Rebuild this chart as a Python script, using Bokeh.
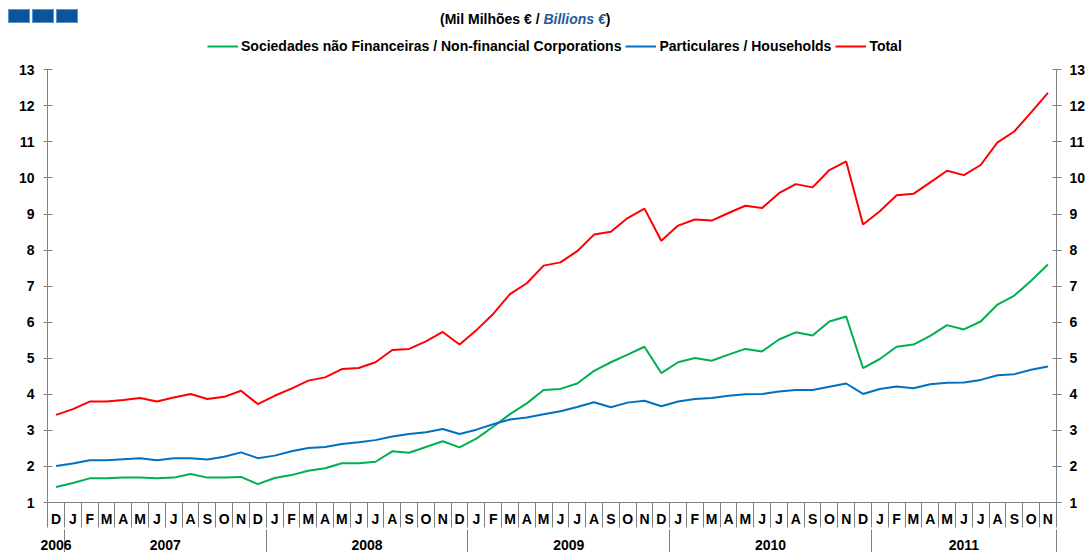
from bokeh.plotting import figure
from bokeh.layouts import column
from bokeh.models import (Range1d, LinearAxis, FixedTicker, Legend, LegendItem, Div)
from bokeh.embed import file_html
from bokeh.resources import INLINE

# ---------------- data ----------------
month_letters = ["J", "F", "M", "A", "M", "J", "J", "A", "S", "O", "N", "D"]
x_labels = ["D"] + month_letters * 4 + month_letters[:11]   # Dec 2006 .. Nov 2011
years = ["2006", "2007", "2008", "2009", "2010", "2011"]
year_centers = [0.5, 7, 19, 31, 43, 54.5]
year_bounds = [1, 13, 25, 37, 49, 60]

nfc = [1.43, 1.54, 1.67, 1.67, 1.69, 1.69, 1.67, 1.69, 1.79, 1.69,
       1.69, 1.71, 1.51, 1.68, 1.76, 1.88, 1.95, 2.09, 2.09, 2.13,
       2.42, 2.38, 2.54, 2.70, 2.53, 2.77, 3.10, 3.45, 3.75, 4.12,
       4.15, 4.30, 4.65, 4.89, 5.10, 5.32, 4.59, 4.89, 5.01, 4.93,
       5.10, 5.26, 5.19, 5.52, 5.72, 5.63, 6.02, 6.16, 4.73, 4.98,
       5.32, 5.38, 5.62, 5.92, 5.80, 6.02, 6.49, 6.74, 7.15, 7.60]
households = [2.01, 2.08, 2.17, 2.17, 2.20, 2.23, 2.17, 2.23, 2.23, 2.19,
              2.27, 2.39, 2.23, 2.30, 2.42, 2.51, 2.54, 2.62, 2.67, 2.73,
              2.83, 2.90, 2.95, 3.04, 2.90, 3.02, 3.17, 3.30, 3.36, 3.45,
              3.53, 3.65, 3.78, 3.64, 3.77, 3.82, 3.67, 3.80, 3.87, 3.90,
              3.96, 4.00, 4.01, 4.08, 4.12, 4.12, 4.21, 4.30, 4.01, 4.15,
              4.22, 4.17, 4.28, 4.32, 4.33, 4.40, 4.53, 4.56, 4.68, 4.77]
total = [3.43, 3.59, 3.80, 3.80, 3.84, 3.90, 3.80, 3.91, 4.01, 3.87,
         3.93, 4.10, 3.73, 3.96, 4.16, 4.38, 4.47, 4.70, 4.73, 4.89,
         5.23, 5.26, 5.47, 5.73, 5.38, 5.78, 6.23, 6.78, 7.08, 7.57,
         7.66, 7.97, 8.43, 8.51, 8.89, 9.15, 8.26, 8.68, 8.85, 8.82,
         9.03, 9.23, 9.17, 9.58, 9.83, 9.74, 10.22, 10.46, 8.71, 9.08,
         9.52, 9.56, 9.88, 10.20, 10.08, 10.36, 10.99, 11.29, 11.82, 12.36]
y_ticks = list(range(1, 14))

series_names = ["Sociedades não Financeiras / Non-financial Corporations",
                "Particulares / Households", "Total"]
series_colors = ["#00B050", "#0070C0", "#FF0000"]

xs = [i + 0.5 for i in range(len(x_labels))]

FONT = "Liberation Sans"
GRAY = "#808080"
W = 1088
HEAD_H = 30
# frame spans from y=HEAD_H (page) down to y=502 (value 1); value 13 sits at y=69.3
PX_PER_UNIT = (501.7 - 69.3) / 12
Y_TOP = 13 + (69.3 - HEAD_H) / PX_PER_UNIT

# ---------------- header (logo + subtitle) ----------------
box = ("position:absolute;top:9px;height:14px;background:#0B559F;"
       "box-shadow:inset 0 0 0 1px #5F95CA;")
header_html = (
    '<div style="position:relative;width:%dpx;height:%dpx;font-family:\'Liberation Sans\',Arial,sans-serif;">'
    '<div style="%sleft:8px;width:22px;"></div>'
    '<div style="%sleft:32px;width:22px;"></div>'
    '<div style="%sleft:56px;width:22px;"></div>'
    '<div style="position:absolute;left:440px;top:11px;font-size:14px;font-weight:bold;'
    'line-height:16px;white-space:pre;color:#000;">(Mil Milhões € / '
    '<span style="color:#1F5C99;font-style:italic;">Billions €</span>)</div>'
    '</div>' % (W, HEAD_H, box, box, box))
head = Div(text=header_html, width=W, height=HEAD_H, margin=0)

# ---------------- main chart ----------------
p = figure(width=W, height=552 - HEAD_H, output_backend="svg", toolbar_location=None,
           x_range=Range1d(-0.01, 60.01), y_range=Range1d(1, Y_TOP),
           x_axis_type=None, y_axis_type=None,
           min_border_left=47, min_border_right=30,
           min_border_top=0, min_border_bottom=50)
p.outline_line_color = None
p.background_fill_color = "white"
p.border_fill_color = "white"

renderers = []
for ys, c in zip([nfc, households, total], series_colors):
    r = p.line(xs, ys, line_width=2, line_color=c)
    renderers.append(r)

# y axes (limited to 1..13)
for loc, tin, tout, so in (("left", 5, 4, 9), ("right", 4, 5, 8)):
    ax = LinearAxis(ticker=FixedTicker(ticks=y_ticks), bounds=(1, 13),
                    major_tick_in=tin, major_tick_out=tout,
                    minor_tick_line_color=None,
                    axis_line_color=GRAY, major_tick_line_color=GRAY,
                    major_label_standoff=so,
                    major_label_text_font=FONT,
                    major_label_text_font_style="bold",
                    major_label_text_font_size="14px",
                    major_label_text_color="black")
    p.add_layout(ax, loc)

# month axis (minor ticks = month separators)
ax1 = LinearAxis(ticker=FixedTicker(ticks=xs, minor_ticks=list(range(0, 61))),
                 major_label_overrides={x: lab for x, lab in zip(xs, x_labels)},
                 major_tick_in=0, major_tick_out=0, major_tick_line_color=None,
                 minor_tick_in=0, minor_tick_out=25, minor_tick_line_color=GRAY,
                 axis_line_color=GRAY,
                 major_label_standoff=-17,
                 major_label_text_font=FONT,
                 major_label_text_font_style="bold",
                 major_label_text_font_size="14px",
                 major_label_text_color="black")
p.add_layout(ax1, "below")

# year axis (minor ticks = year separators)
ax2 = LinearAxis(ticker=FixedTicker(ticks=year_centers, minor_ticks=year_bounds),
                 major_label_overrides={x: lab for x, lab in zip(year_centers, years)},
                 major_tick_in=0, major_tick_out=0, major_tick_line_color=None,
                 minor_tick_in=0, minor_tick_out=24, minor_tick_line_color=GRAY,
                 axis_line_color=None,
                 major_label_standoff=-14,
                 major_label_text_font=FONT,
                 major_label_text_font_style="bold",
                 major_label_text_font_size="14px",
                 major_label_text_color="black")
p.add_layout(ax2, "below")

frame_h = (552 - HEAD_H) - 50
legend = Legend(items=[LegendItem(label=n, renderers=[r]) for n, r in zip(series_names, renderers)],
                orientation="horizontal", location=(160, frame_h - 24),
                padding=0, margin=0, spacing=4,
                glyph_width=31, glyph_height=16, label_height=16, label_standoff=3,
                border_line_color=None, background_fill_alpha=0,
                label_text_font=FONT, label_text_font_style="bold",
                label_text_font_size="14px", label_text_color="black")
p.add_layout(legend, "center")

layout = column(head, p, spacing=0)
open("out.html", "w").write(file_html(layout, INLINE))
